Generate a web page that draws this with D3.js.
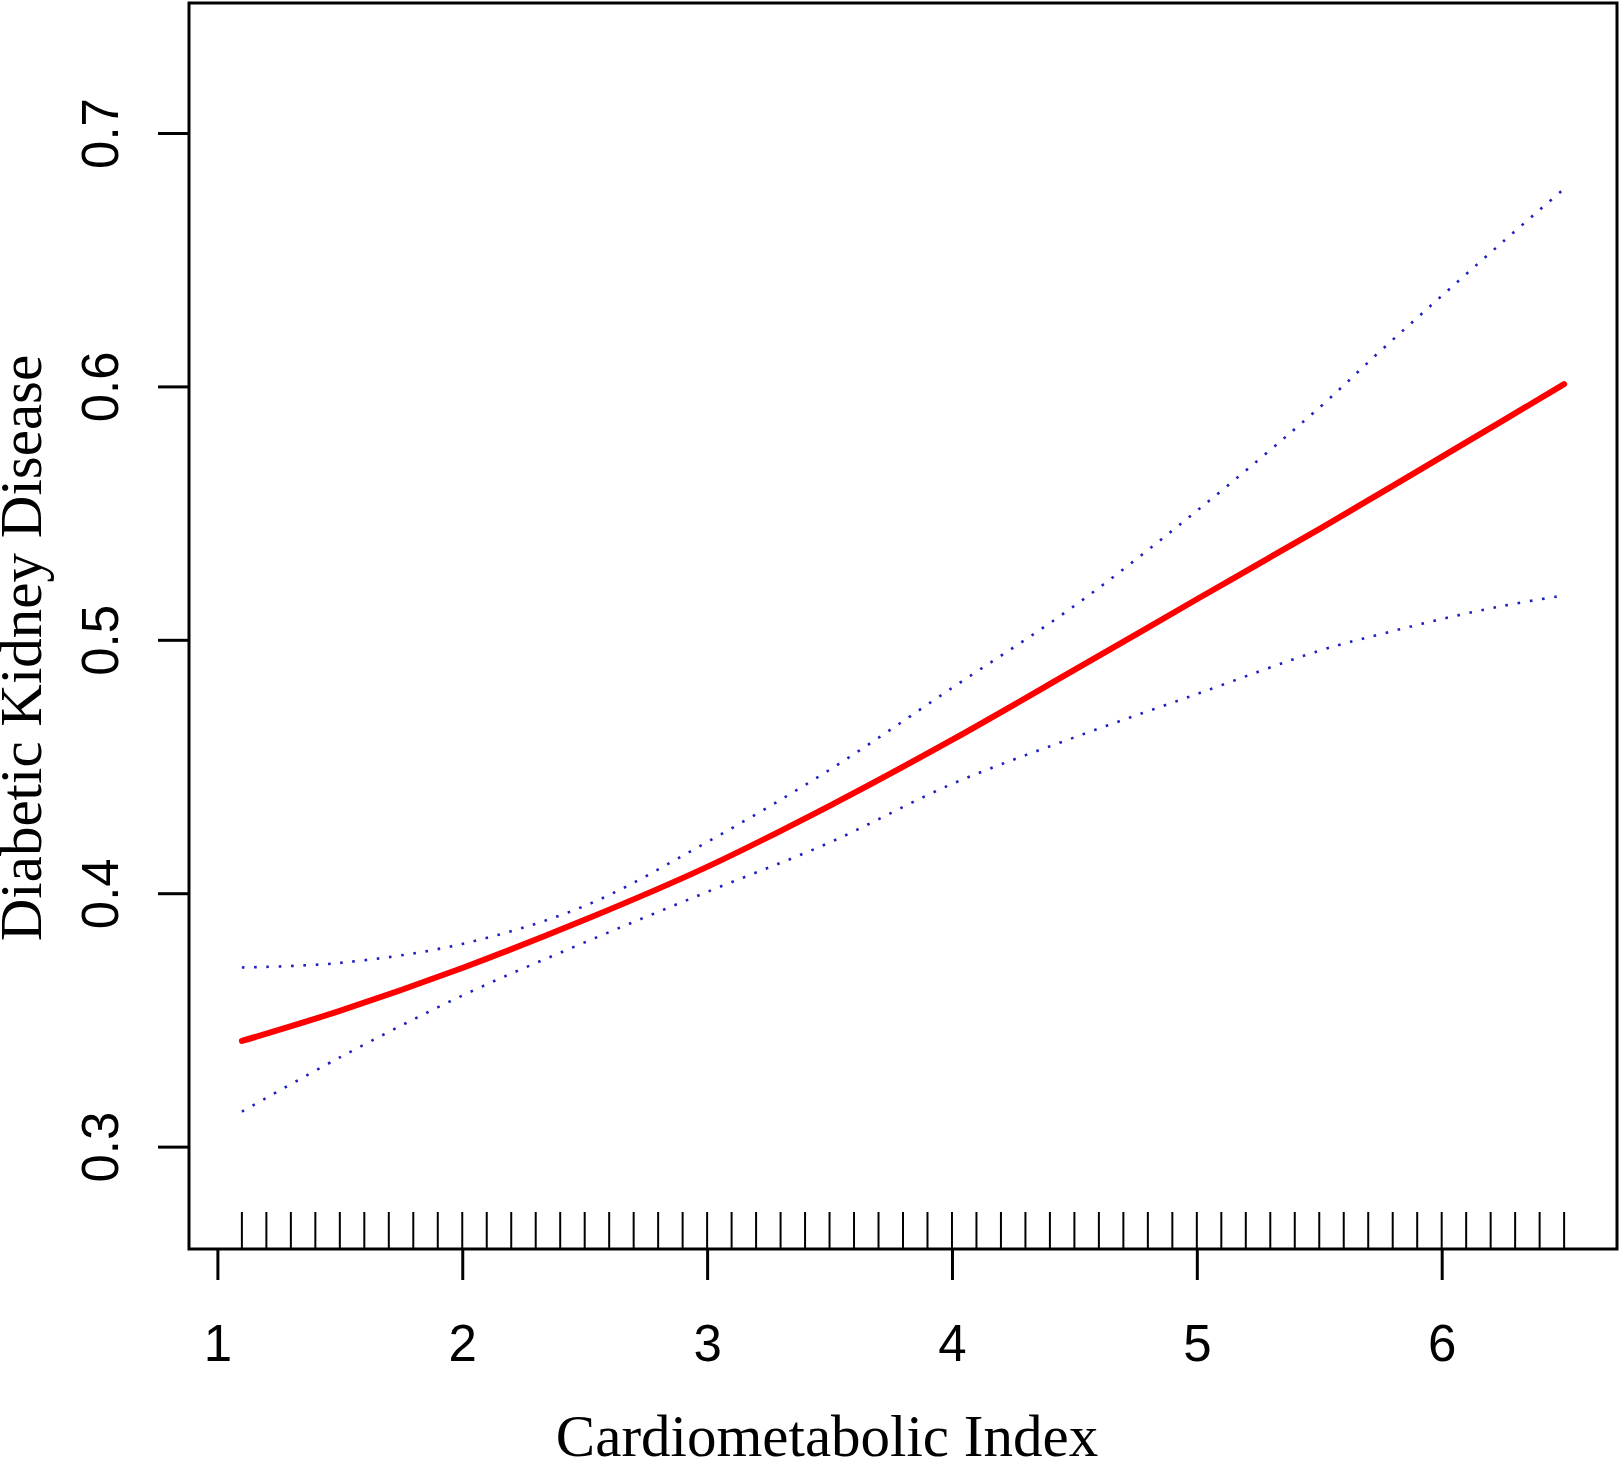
<!DOCTYPE html>
<html lang="en">
<head>
    <meta charset="UTF-8">
    <title>Cardiometabolic Index vs Diabetic Kidney Disease</title>
    <script src="https://d3js.org/d3.v7.min.js"></script>
    <style>
        body { margin: 0; background: #fff; }
        svg { display: block; }
        .tick text { font-family: Arial, "Liberation Sans", Helvetica, sans-serif; font-size: 51px; fill: #000; }
        .title { font-family: "Times New Roman", "Liberation Serif", serif; font-size: 59px; fill: #000; }
    </style>
</head>
<body>
    <div id="chart"></div>

    <script>
        // values
        const xVals = [1.1, 1.5, 2, 2.5, 3, 3.5, 4, 4.5, 5, 5.5, 5.75, 6, 6.25, 6.5];
        const fitVals = [0.3417, 0.3536, 0.3705, 0.3895, 0.4104, 0.4345, 0.4605, 0.4881, 0.516, 0.5437, 0.5579, 0.5722, 0.5865, 0.6009];
        const upperVals = [0.3707, 0.3725, 0.380, 0.395, 0.4202, 0.4487, 0.481, 0.5134, 0.5509, 0.5916, 0.614, 0.6357, 0.6571, 0.678];
        const lowerVals = [0.3138, 0.3352, 0.3596, 0.3806, 0.4005, 0.42, 0.4431, 0.4615, 0.4786, 0.4957, 0.5022, 0.5082, 0.5134, 0.5175];

        const rugVals = [1.1, 1.2, 1.3, 1.4, 1.5, 1.6, 1.7, 1.8, 1.9, 2.0,
                         2.1, 2.2, 2.3, 2.4, 2.5, 2.6, 2.7, 2.8, 2.9, 3.0,
                         3.1, 3.2, 3.3, 3.4, 3.5, 3.6, 3.7, 3.8, 3.9, 4.0,
                         4.1, 4.2, 4.3, 4.4, 4.5, 4.6, 4.7, 4.8, 4.9, 5.0,
                         5.1, 5.2, 5.3, 5.4, 5.5, 5.6, 5.7, 5.8, 5.9, 6.0,
                         6.1, 6.2, 6.3, 6.4, 6.5];

        const xTicks = [1, 2, 3, 4, 5, 6];
        const yTicks = [0.3, 0.4, 0.5, 0.6, 0.7];
        const xTitle = "Cardiometabolic Index";
        const yTitle = "Diabetic Kidney Disease";

        const W = 1619, H = 1459;
        const plotL = 189, plotR = 1617, plotT = 3, plotB = 1249;

        const svg = d3.select("#chart").append("svg")
            .attr("width", W)
            .attr("height", H);

        const x = d3.scaleLinear().domain([0.884, 6.716]).range([plotL, plotR]);
        const y = d3.scaleLinear().domain([0.2596, 0.7513]).range([plotB, plotT]);

        // rug along the bottom
        svg.append("g").selectAll("line")
            .data(rugVals)
            .enter().append("line")
            .attr("x1", d => x(d)).attr("x2", d => x(d))
            .attr("y1", plotB).attr("y2", plotB - 37)
            .attr("stroke", "#000")
            .attr("stroke-width", 2);

        const pts = (vals) => xVals.map((v, i) => [v, vals[i]]);
        const line = d3.line()
            .x(d => x(d[0]))
            .y(d => y(d[1]))
            .curve(d3.curveCatmullRom.alpha(0.5));

        // confidence band edges
        [upperVals, lowerVals].forEach(vals => {
            svg.append("path")
                .attr("d", line(pts(vals)))
                .attr("fill", "none")
                .attr("stroke", "#2020c0")
                .attr("stroke-width", 2.6)
                .attr("stroke-dasharray", "2.6 9.7");
        });

        // fitted curve
        svg.append("path")
            .attr("d", line(pts(fitVals)))
            .attr("fill", "none")
            .attr("stroke", "#ff0000")
            .attr("stroke-width", 6)
            .attr("stroke-linecap", "round");

        // axes
        const xAxis = svg.append("g")
            .attr("transform", `translate(0,${plotB})`)
            .call(d3.axisBottom(x).tickValues(xTicks).tickSize(31).tickFormat(d3.format("d")));
        xAxis.select(".domain").remove();
        xAxis.selectAll(".tick line").attr("stroke", "#000").attr("stroke-width", 3);
        xAxis.selectAll(".tick text").attr("y", 112).attr("dy", 0);

        const yAxis = svg.append("g")
            .attr("transform", `translate(${plotL},0)`)
            .call(d3.axisLeft(y).tickValues(yTicks).tickSize(31).tickFormat(d3.format(".1f")));
        yAxis.select(".domain").remove();
        yAxis.selectAll(".tick line").attr("stroke", "#000").attr("stroke-width", 3);
        yAxis.selectAll(".tick text")
            .attr("x", 0).attr("y", -71).attr("dy", 0)
            .attr("text-anchor", "middle")
            .attr("transform", "rotate(-90)");

        // plot box
        svg.append("rect")
            .attr("x", plotL).attr("y", plotT)
            .attr("width", plotR - plotL).attr("height", plotB - plotT)
            .attr("fill", "none")
            .attr("stroke", "#000")
            .attr("stroke-width", 3);

        // titles
        svg.append("text")
            .attr("class", "title")
            .attr("x", 827).attr("y", 1456)
            .attr("text-anchor", "middle")
            .text(xTitle);

        svg.append("text")
            .attr("class", "title")
            .attr("transform", "translate(41,648) rotate(-90)")
            .attr("text-anchor", "middle")
            .text(yTitle);
    </script>
</body>
</html>
